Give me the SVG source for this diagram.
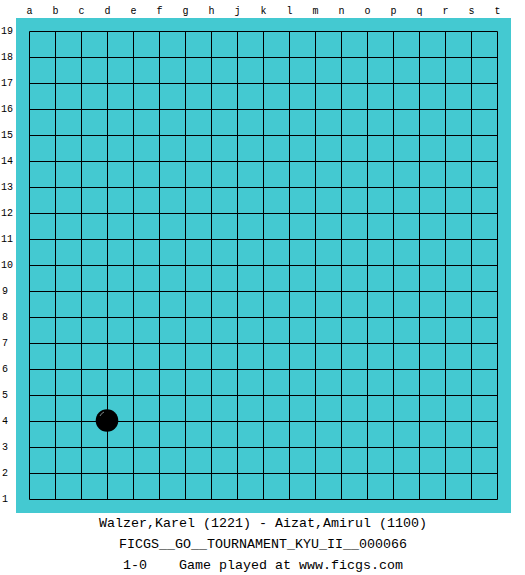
<svg xmlns="http://www.w3.org/2000/svg" width="525" height="575" viewBox="0 0 525 575">
<style>
.lbl{font-family:"Liberation Mono","DejaVu Sans Mono",monospace;font-size:10px;fill:#000}
.col{text-anchor:middle}
.cap{font-family:"Liberation Mono","DejaVu Sans Mono",monospace;font-size:13.33px;fill:#000;text-anchor:middle;white-space:pre}
.grid line{stroke:#000;stroke-width:1}
</style>
<rect width="525" height="575" fill="#fff"/>
<rect id="board" x="16" y="18" width="495" height="495" fill="#44c9d1"/>
<g class="grid">
<line x1="29.5" y1="31.5" x2="29.5" y2="499.5"/><line x1="55.5" y1="31.5" x2="55.5" y2="499.5"/><line x1="81.5" y1="31.5" x2="81.5" y2="499.5"/><line x1="107.5" y1="31.5" x2="107.5" y2="499.5"/><line x1="133.5" y1="31.5" x2="133.5" y2="499.5"/><line x1="159.5" y1="31.5" x2="159.5" y2="499.5"/><line x1="185.5" y1="31.5" x2="185.5" y2="499.5"/><line x1="211.5" y1="31.5" x2="211.5" y2="499.5"/><line x1="237.5" y1="31.5" x2="237.5" y2="499.5"/><line x1="263.5" y1="31.5" x2="263.5" y2="499.5"/><line x1="289.5" y1="31.5" x2="289.5" y2="499.5"/><line x1="315.5" y1="31.5" x2="315.5" y2="499.5"/><line x1="341.5" y1="31.5" x2="341.5" y2="499.5"/><line x1="367.5" y1="31.5" x2="367.5" y2="499.5"/><line x1="393.5" y1="31.5" x2="393.5" y2="499.5"/><line x1="419.5" y1="31.5" x2="419.5" y2="499.5"/><line x1="445.5" y1="31.5" x2="445.5" y2="499.5"/><line x1="471.5" y1="31.5" x2="471.5" y2="499.5"/><line x1="497.5" y1="31.5" x2="497.5" y2="499.5"/>
<line x1="29.5" y1="31.5" x2="497.5" y2="31.5"/><line x1="29.5" y1="57.5" x2="497.5" y2="57.5"/><line x1="29.5" y1="83.5" x2="497.5" y2="83.5"/><line x1="29.5" y1="109.5" x2="497.5" y2="109.5"/><line x1="29.5" y1="135.5" x2="497.5" y2="135.5"/><line x1="29.5" y1="161.5" x2="497.5" y2="161.5"/><line x1="29.5" y1="187.5" x2="497.5" y2="187.5"/><line x1="29.5" y1="213.5" x2="497.5" y2="213.5"/><line x1="29.5" y1="239.5" x2="497.5" y2="239.5"/><line x1="29.5" y1="265.5" x2="497.5" y2="265.5"/><line x1="29.5" y1="291.5" x2="497.5" y2="291.5"/><line x1="29.5" y1="317.5" x2="497.5" y2="317.5"/><line x1="29.5" y1="343.5" x2="497.5" y2="343.5"/><line x1="29.5" y1="369.5" x2="497.5" y2="369.5"/><line x1="29.5" y1="395.5" x2="497.5" y2="395.5"/><line x1="29.5" y1="421.5" x2="497.5" y2="421.5"/><line x1="29.5" y1="447.5" x2="497.5" y2="447.5"/><line x1="29.5" y1="473.5" x2="497.5" y2="473.5"/><line x1="29.5" y1="499.5" x2="497.5" y2="499.5"/>
</g>
<g id="cols" class="lbl col">
<text x="29.5" y="14">a</text><text x="55.5" y="14">b</text><text x="81.5" y="14">c</text><text x="107.5" y="14">d</text><text x="133.5" y="14">e</text><text x="159.5" y="14">f</text><text x="185.5" y="14">g</text><text x="211.5" y="14">h</text><text x="237.5" y="14">j</text><text x="263.5" y="14">k</text><text x="289.5" y="14">l</text><text x="315.5" y="14">m</text><text x="341.5" y="14">n</text><text x="367.5" y="14">o</text><text x="393.5" y="14">p</text><text x="419.5" y="14">q</text><text x="445.5" y="14">r</text><text x="471.5" y="14">s</text><text x="497.5" y="14">t</text>
</g>
<g id="rows" class="lbl">
<text x="1" y="34">19</text><text x="1" y="60">18</text><text x="1" y="86">17</text><text x="1" y="112">16</text><text x="1" y="138">15</text><text x="1" y="164">14</text><text x="1" y="190">13</text><text x="1" y="216">12</text><text x="1" y="242">11</text><text x="1" y="268">10</text><text x="2" y="294">9</text><text x="2" y="320">8</text><text x="2" y="346">7</text><text x="2" y="372">6</text><text x="2" y="398">5</text><text x="2" y="424">4</text><text x="2" y="450">3</text><text x="2" y="476">2</text><text x="2" y="502">1</text>
</g>
<g id="stone-d4">
<circle cx="107" cy="420.5" r="11.3" fill="#000"/>
<path d="M100 416 A8 8 0 0 1 104 412" fill="none" stroke="#9aa" stroke-width="0.8"/>
</g>
<g id="caption" class="cap">
<text x="263" y="527" xml:space="preserve">Walzer,Karel (1221) - Aizat,Amirul (1100)</text>
<text x="263" y="548" xml:space="preserve">FICGS__GO__TOURNAMENT_KYU_II__000066</text>
<text x="263" y="569" xml:space="preserve">1-0    Game played at www.ficgs.com</text>
</g>
</svg>
